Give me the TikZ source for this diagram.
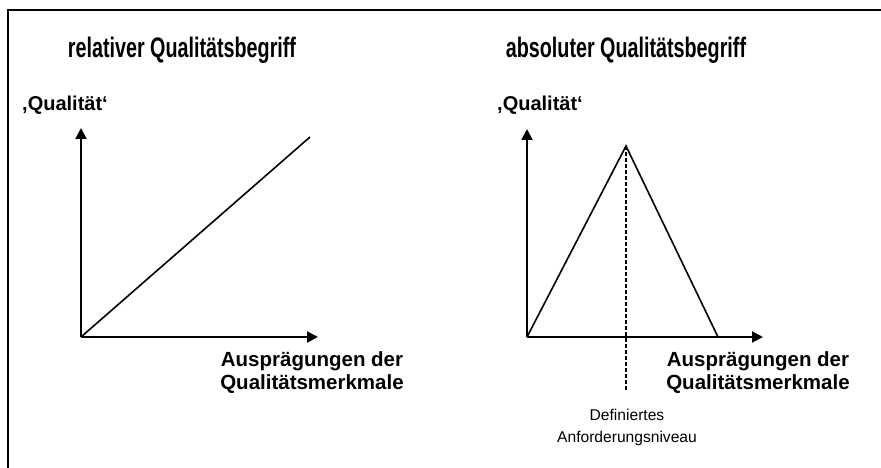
\documentclass[tikz,border=0pt]{standalone}
\usepackage{fontspec}
\setmainfont{Liberation Sans}
\usetikzlibrary{arrows.meta}
\newcommand{\narrowtext}[1]{\scalebox{0.70}[1]{#1}}
\tikzset{
  frame/.style={line width=2pt, draw=black},
  axis/.style={line width=2pt, -{Triangle[length=11pt,width=11pt]}},
  curve/.style={line width=1.6pt},
  guide/.style={line width=1.6pt, dash pattern=on 4pt off 2pt},
  title/.style={font=\fontsize{28.2}{31}\selectfont\bfseries, anchor=base, inner sep=0pt},
  ylabel/.style={font=\fontsize{20}{23}\selectfont\bfseries, anchor=base west, inner sep=0pt},
  xlabel/.style={font=\fontsize{20.5}{23}\selectfont\bfseries, align=center, anchor=north, inner sep=0pt},
  note/.style={font=\fontsize{15.6}{21.5}\selectfont, align=center, anchor=north, inner sep=0pt}
}
\begin{document}
\begin{tikzpicture}[x=1pt,y=-1pt]
\useasboundingbox (0,0) rectangle (881,468);
% frame (cut at right and bottom)
\coordinate (FB) at (8,468);
\coordinate (FC) at (8,10);
\coordinate (FR) at (881,10);
\draw[frame] (FB) -- (FC) -- (FR);
% titles
\node[title] (t1) at (182,58) {\narrowtext{relativer Qualitätsbegriff}};
\node[title] (t2) at (626,58) {\narrowtext{absoluter Qualitätsbegriff}};
% left chart
\coordinate (O1) at (81,337);
\coordinate (Y1) at (81,128);
\coordinate (X1) at (318,337);
\coordinate (D1) at (310,137);
\draw[axis] (O1) -- (Y1);
\draw[axis] (O1) -- (X1);
\draw[curve] (O1) -- (D1);
\node[ylabel] (q1) at (22,111) {,Qualität‘};
\node[xlabel] (a1) at (312,351) {Ausprägungen der\\Qualitätsmerkmale};
% right chart
\coordinate (O2) at (527,337);
\coordinate (Y2) at (527,129);
\coordinate (X2) at (763,337);
\coordinate (P) at (626,146);
\coordinate (F) at (718,337);
\coordinate (G) at (626,390);
\draw[axis] (O2) -- (Y2);
\draw[axis] (O2) -- (X2);
\draw[curve, line join=miter] (O2) -- (P) -- (F);
\draw[guide] (P) -- (G);
\node[ylabel] (q2) at (497,111) {,Qualität‘};
\node[xlabel] (a2) at (758,351) {Ausprägungen der\\Qualitätsmerkmale};
\node[note] (n) at (627,409) {Definiertes\\Anforderungsniveau};
\end{tikzpicture}
\end{document}
